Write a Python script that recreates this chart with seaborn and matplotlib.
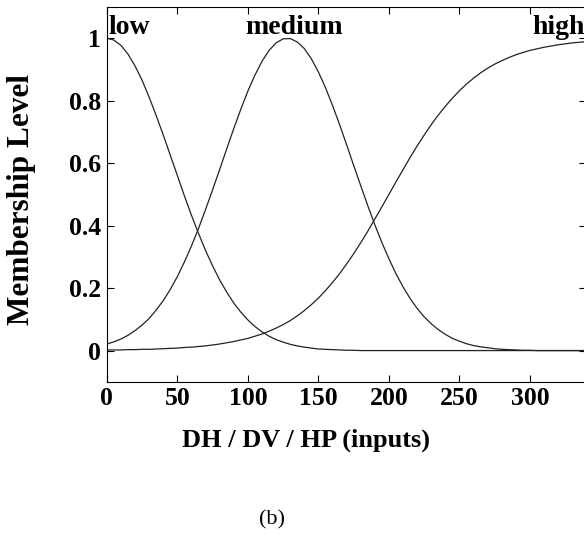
import matplotlib
matplotlib.use("Agg")
import matplotlib.pyplot as plt
import pandas as pd
import seaborn as sns

# values, every 5 units of input (0 .. 340)
x_vals = list(range(0, 345, 5))
low = [1.0, 0.994, 0.977, 0.949, 0.911, 0.865, 0.811, 0.752, 0.690, 0.625, 0.560,
       0.495, 0.433, 0.375, 0.320, 0.271, 0.226, 0.187, 0.152, 0.123, 0.098, 0.077,
       0.060, 0.046, 0.035, 0.027, 0.020, 0.015, 0.011, 0.008, 0.005, 0.004, 0.003,
       0.002, 0.001, 0.001] + [0.0] * 33
medium = [0.021, 0.028, 0.037, 0.049, 0.064, 0.082, 0.103, 0.130, 0.160, 0.196, 0.237,
          0.284, 0.335, 0.391, 0.452, 0.515, 0.580, 0.646, 0.711, 0.773, 0.831, 0.882,
          0.926, 0.961, 0.985, 0.998, 0.999, 0.988, 0.967, 0.934, 0.892, 0.842, 0.785,
          0.724, 0.659, 0.593, 0.528, 0.464, 0.403, 0.346, 0.294, 0.246, 0.204, 0.167,
          0.135, 0.108, 0.086, 0.067, 0.052, 0.039, 0.030, 0.022, 0.016, 0.012, 0.009,
          0.006, 0.004, 0.003, 0.002, 0.001, 0.001] + [0.0] * 8
high = [0.002, 0.002, 0.002, 0.003, 0.003, 0.004, 0.004, 0.005, 0.006, 0.007, 0.008,
        0.010, 0.011, 0.013, 0.015, 0.018, 0.021, 0.025, 0.029, 0.034, 0.039, 0.046,
        0.053, 0.062, 0.072, 0.083, 0.096, 0.111, 0.128, 0.147, 0.168, 0.192, 0.218,
        0.246, 0.277, 0.310, 0.345, 0.382, 0.421, 0.460, 0.500, 0.540, 0.579, 0.618,
        0.655, 0.690, 0.723, 0.754, 0.782, 0.808, 0.832, 0.853, 0.872, 0.889, 0.904,
        0.917, 0.928, 0.938, 0.947, 0.954, 0.961, 0.966, 0.971, 0.975, 0.979, 0.982,
        0.985, 0.987, 0.989]
names = ["low", "medium", "high"]
name_pos = [1, 98, 302]

rows = []
for name, ys in zip(names, [low, medium, high]):
    for xv, yv in zip(x_vals, ys):
        rows.append({"x": xv, "y": yv, "mf": name})
df = pd.DataFrame(rows)

sns.set_theme(style="white")
plt.rcParams["font.family"] = ["Liberation Serif", "DejaVu Serif"]
plt.rcParams["xtick.direction"] = "in"
plt.rcParams["ytick.direction"] = "in"
for k in ["text.color", "axes.labelcolor", "xtick.color", "ytick.color"]:
    plt.rcParams[k] = "black"

fig = plt.figure(figsize=(5.84, 5.37), dpi=100)
ax = fig.add_axes([0.183, 0.289, 0.821, 0.698])

sns.lineplot(data=df, x="x", y="y", hue="mf", palette=["#222222"] * 3,
             linewidth=0.9, legend=False, ax=ax)

for name, xp in zip(names, name_pos):
    ax.text(xp, 1.012, name, fontsize=20, fontweight="bold", va="baseline",
            ha="left", clip_on=False)

ax.set_xlim(0, 340)
ax.set_ylim(-0.1, 1.1)
ax.set_xticks([0, 50, 100, 150, 200, 250, 300])
ax.set_yticks([0, 0.2, 0.4, 0.6, 0.8, 1])
ax.set_yticklabels(["0", "0.2", "0.4", "0.6", "0.8", "1"])
ax.tick_params(axis="both", which="both", labelsize=18.5, length=5, width=0.8,
               top=True, right=True, bottom=True, left=True, color="black", pad=4)
for lbl in ax.get_xticklabels() + ax.get_yticklabels():
    lbl.set_fontweight("bold")
for sp in ax.spines.values():
    sp.set_color("black")
    sp.set_linewidth(0.8)

ax.set_xlabel("DH / DV / HP (inputs)", fontsize=19, fontweight="bold")
ax.set_ylabel("Membership Level", fontsize=22.5, fontweight="bold")
ax.xaxis.set_label_coords(0.415, -0.157)
ax.xaxis.label.set_va("center")
ax.yaxis.set_label_coords(-0.178, 0.485)
ax.yaxis.label.set_va("center")

fig.text(0.466, 0.032, "(b)", fontsize=16, ha="center", va="center")

fig.savefig("out.png", dpi=100)
